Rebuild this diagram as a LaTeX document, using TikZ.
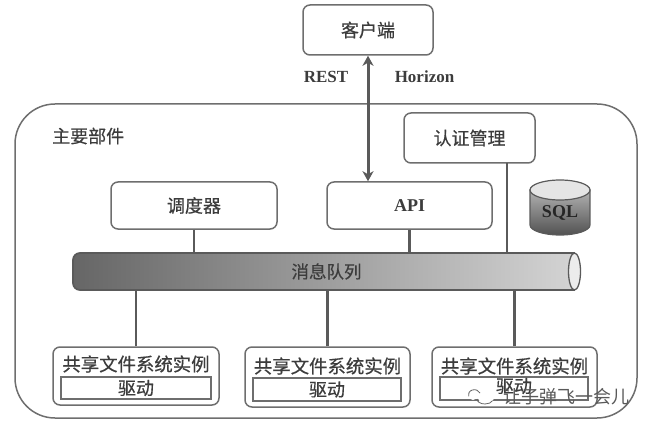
\documentclass[tikz,border=0pt]{standalone}
\usepackage{fontspec}
\setmainfont{Liberation Serif}
\newfontfamily\cjk[FakeBold=0.5]{Noto Sans CJK SC}
\newfontfamily\cjkplain{Noto Sans CJK SC}
\usetikzlibrary{arrows.meta,shapes.geometric,calc}
\definecolor{edgegray}{HTML}{6E6E6E}
\definecolor{linkgray}{HTML}{5A5A5A}
\definecolor{inkgray}{HTML}{3C3C3C}
\tikzset{
  cntext/.style={text=inkgray,font=\cjk\fontsize{18}{20}\selectfont},
  titletext/.style={text=inkgray,font=\cjk\fontsize{18.4}{20}\selectfont},
  compbox/.style={draw=edgegray,line width=1.5pt,rounded corners=7pt,fill=white,inner sep=0pt,cntext},
  drvbox/.style={draw=edgegray,line width=1.7pt,fill=white,inner sep=0pt,cntext},
  link/.style={draw=linkgray,line width=2.5pt},
  frame/.style={draw=edgegray,line width=1.5pt,rounded corners=40pt},
  latin/.style={text=inkgray,font=\bfseries\fontsize{17}{19}\selectfont},
  pipeend/.style={draw=linkgray,line width=1.3pt,fill=gray!15},
}
\begin{document}
\begin{tikzpicture}[x=1pt,y=-1pt]
\useasboundingbox (0,0) rectangle (650,422);
% outer frame
\draw[frame] (15,104) rectangle (637,418);
\node[cntext,anchor=west,inner sep=0pt] (maintitle) at (52,136) {主要部件};
% queue
\node[minimum width=507pt,minimum height=37pt,inner sep=0pt] (queue) at (326.5,271.5) {};
\path[left color=black!60,right color=black!17,draw=linkgray,line width=1.7pt]
  (574,253) [rounded corners=7pt] -- (73,253) -- (73,290) [sharp corners] -- (574,290) -- cycle;
\draw[pipeend] (574.5,271.5) ellipse[x radius=6pt,y radius=18.5pt];
\node[cntext,font=\cjk\fontsize{17.5}{20}\selectfont] (queuetext) at (queue.center) {消息队列};
% client, API, etc.
\node[compbox,minimum width=130pt,minimum height=50pt] (client) at (368,30) {客户端};
\node[compbox,minimum width=131pt,minimum height=50pt] (auth) at (469.5,138) {认证管理};
\node[compbox,minimum width=165pt,minimum height=47pt] (api) at (409.5,205.5) {\fontspec{Liberation Serif}\bfseries API};
\node[compbox,minimum width=166pt,minimum height=47pt] (sched) at (194,205.5) {调度器};
% SQL cylinder
\path[top color=black!30,bottom color=black!68,draw=linkgray,line width=1.2pt]
  (530,190) -- (530,225) arc[start angle=180,end angle=360,x radius=30pt,y radius=10pt]
  -- (590,190) -- cycle;
\draw[draw=linkgray,line width=1.2pt,fill=black!10] (560,190) ellipse[x radius=30pt,y radius=10pt];
\node[text=black!85,font=\bfseries\fontsize{18}{20}\selectfont] (sql) at (560,213) {SQL};
% instances
\node[compbox,minimum width=166pt,minimum height=58pt] (inst1) at (136,376) {};
\node[compbox,minimum width=165pt,minimum height=60pt] (inst2) at (327.5,377) {};
\node[compbox,minimum width=165pt,minimum height=60pt] (inst3) at (514.5,377) {};
\node[titletext] (t1) at (136,364) {共享文件系统实例};
\node[titletext] (t2) at (327.5,366) {共享文件系统实例};
\node[titletext] (t3) at (514.5,366) {共享文件系统实例};
\node[drvbox,minimum width=150pt,minimum height=22pt] (d1) at (136,388) {驱动};
\node[drvbox,minimum width=148pt,minimum height=23pt] (d2) at (327,389.5) {驱动};
\node[drvbox,minimum width=148pt,minimum height=23pt] (d3) at (514,388.5) {};
\node[cntext,font=\cjk\fontsize{18}{20}\selectfont] (d3text) at (514,386) {驱动};
% links
\coordinate (authdrop) at (507,163);
\draw[link] (sched.south) -- (sched.south |- queue.north);
\draw[link] (api.south) -- (api.south |- queue.north);
\draw[link] (authdrop) -- (authdrop |- queue.north);
\draw[link] (inst1.north) -- (inst1.north |- queue.south);
\draw[link] (inst2.north) -- (inst2.north |- queue.south);
\draw[link] (inst3.north) -- (inst3.north |- queue.south);
\draw[link,line width=3pt,{Stealth[length=10pt,width=11pt,inset=3pt]}-{Stealth[length=10pt,width=11pt,inset=3pt]}] (client.south) -- (client.south |- api.north);
% labels
\node[latin,anchor=center] (rest) at (326,77) {REST};
\node[latin,anchor=center] (horizon) at (424.5,77) {Horizon};
% watermark
\fill[white] (473,395) ellipse[x radius=5pt,y radius=5pt];
\fill[white] (486,397) ellipse[x radius=8pt,y radius=7pt];
\draw[black!60,line width=.8pt] (480,393) arc[start angle=20,end angle=200,x radius=6pt,y radius=5pt];
\draw[black!60,line width=.8pt] (477,399) arc[start angle=180,end angle=340,x radius=8pt,y radius=5pt];
\node[text=black!65,font=\cjkplain\fontsize{18}{20}\selectfont,anchor=west,inner sep=0pt] (mark) at (503,397) {让子弹飞一会儿};
\end{tikzpicture}
\end{document}
